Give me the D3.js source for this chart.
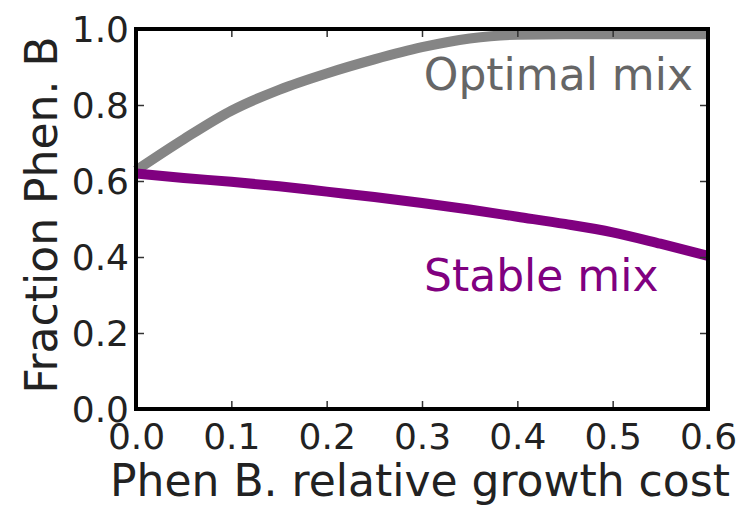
<!DOCTYPE html>
<html>
<head>
<meta charset="utf-8">
<script src="https://cdn.jsdelivr.net/npm/d3@7"></script>
<style>
  html, body { margin: 0; padding: 0; background: #fff; }
  svg { display: block; }
  text { font-family: "DejaVu Sans", sans-serif; }
</style>
</head>
<body>
<svg id="chart" width="746" height="511"></svg>
<script>
// Relative growth cost of phenotype B (x values)
const cost = [0, 0.05, 0.1, 0.15, 0.2, 0.25, 0.3, 0.35, 0.4, 0.45, 0.5, 0.55, 0.6];
// Fraction of phenotype B in the optimal mix
const optimalMix = [0.628, 0.71, 0.785, 0.84, 0.883, 0.92, 0.952, 0.975, 0.985, 0.986, 0.986, 0.986, 0.986];
// Fraction of phenotype B in the stable mix
const stableMix = [0.62, 0.608, 0.598, 0.586, 0.572, 0.558, 0.542, 0.525, 0.506, 0.487, 0.465, 0.435, 0.403];
// Tick values
const xTicks = [0, 0.1, 0.2, 0.3, 0.4, 0.5, 0.6];
const yTicks = [0, 0.2, 0.4, 0.6, 0.8, 1.0];

const svg = d3.select("#chart");
const plotL = 136, plotR = 708, plotT = 29, plotB = 409;

const x = d3.scaleLinear().domain([0, 0.6]).range([plotL, plotR]);
const y = d3.scaleLinear().domain([0, 1]).range([plotB, plotT]);

const line = d3.line()
  .x(d => x(d[0]))
  .y(d => y(d[1]))
  .curve(d3.curveMonotoneX);

// Curves
svg.append("path")
  .datum(cost.map((c, i) => [c, optimalMix[i]]))
  .attr("d", line)
  .attr("fill", "none")
  .attr("stroke", "#858585")
  .attr("stroke-width", 10)
  .attr("stroke-linecap", "butt");

svg.append("path")
  .datum(cost.map((c, i) => [c, stableMix[i]]))
  .attr("d", line)
  .attr("fill", "none")
  .attr("stroke", "#800080")
  .attr("stroke-width", 10)
  .attr("stroke-linecap", "butt");

// Inward ticks on all four sides
const tickLen = 8;
const tickStyle = g => {
  g.select(".domain").remove();
  g.selectAll(".tick line").attr("stroke", "#333").attr("stroke-width", 1.5);
};

svg.append("g").attr("transform", `translate(0,${plotB})`)
  .call(d3.axisBottom(x).tickValues(xTicks).tickSize(-tickLen).tickFormat(d3.format(".1f")))
  .call(tickStyle)
  .call(g => g.selectAll(".tick text")
    .attr("y", 40).attr("dy", 0)
    .attr("font-size", 36).attr("fill", "#222")
    .attr("font-family", "DejaVu Sans"));

svg.append("g").attr("transform", `translate(0,${plotT})`)
  .call(d3.axisTop(x).tickValues(xTicks).tickSize(-tickLen).tickFormat(""))
  .call(tickStyle);

svg.append("g").attr("transform", `translate(${plotL},0)`)
  .call(d3.axisLeft(y).tickValues(yTicks).tickSize(-tickLen).tickFormat(d3.format(".1f")))
  .call(tickStyle)
  .call(g => g.selectAll(".tick text")
    .attr("x", -7).attr("dy", "0.36em")
    .attr("font-size", 36).attr("fill", "#222")
    .attr("font-family", "DejaVu Sans"));

svg.append("g").attr("transform", `translate(${plotR},0)`)
  .call(d3.axisRight(y).tickValues(yTicks).tickSize(-tickLen).tickFormat(""))
  .call(tickStyle);

// Frame
svg.append("rect")
  .attr("x", plotL).attr("y", plotT)
  .attr("width", plotR - plotL).attr("height", plotB - plotT)
  .attr("fill", "none").attr("stroke", "#000").attr("stroke-width", 4);

// Axis labels
svg.append("text")
  .attr("x", (plotL + plotR) / 2 - 2).attr("y", 496)
  .attr("text-anchor", "middle")
  .attr("font-size", 44).attr("fill", "#222")
  .text("Phen B. relative growth cost");

svg.append("text")
  .attr("transform", "translate(57,215) rotate(-90)")
  .attr("text-anchor", "middle")
  .attr("font-size", 44).attr("fill", "#222")
  .text("Fraction Phen. B");

// Curve annotations
svg.append("text")
  .attr("x", 693).attr("y", 90)
  .attr("text-anchor", "end")
  .attr("font-size", 44).attr("fill", "#666")
  .text("Optimal mix");

svg.append("text")
  .attr("x", 424).attr("y", 291)
  .attr("font-size", 44).attr("fill", "#800080")
  .text("Stable mix");
</script>
</body>
</html>
